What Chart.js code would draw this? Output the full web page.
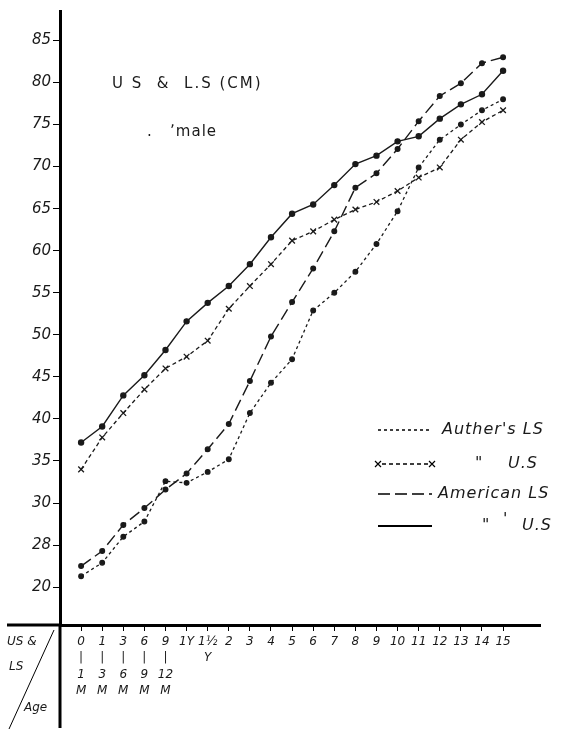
<!DOCTYPE html>
<html>
<head>
<meta charset="utf-8">
<script src="https://cdn.jsdelivr.net/npm/chart.js@4.4.0/dist/chart.umd.min.js"></script>
<style>
  html, body { margin: 0; padding: 0; background: #fff; }
  canvas { display: block; }
</style>
</head>
<body>
<canvas id="myChart" width="562" height="731"></canvas>
<script>
// age categories along the bottom
const ages = ['0', '1', '3', '6', '9', '1Y', '1½', '2', '3', '4', '5', '6', '7', '8', '9', '10', '11', '12', '13', '14', '15'];
const ageSub = [['|', '1', 'M'], ['|', '3', 'M'], ['|', '6', 'M'], ['|', '9', 'M'], ['|', '12', 'M'], [], ['Y']];

// y ticks as written on the sheet
const yTicks = [20, 25, 30, 35, 40, 45, 50, 55, 60, 65, 70, 75, 80, 85];
const yTickLabels = ['20', '28', '30', '35', '40', '45', '50', '55', '60', '65', '70', '75', '80', '85'];

// values (cm)
const authorLS   = [21.3, 22.9, 26.0, 27.8, 32.6, 32.4, 33.7, 35.2, 40.7, 44.3, 47.1, 52.9, 55.0, 57.5, 60.8, 64.7, 69.9, 73.2, 75.0, 76.7, 78.0];
const authorUS   = [34.0, 37.8, 40.7, 43.5, 46.0, 47.4, 49.3, 53.1, 55.8, 58.4, 61.2, 62.3, 63.7, 64.9, 65.8, 67.1, 68.7, 69.9, 73.2, 75.3, 76.7];
const americanLS = [22.5, 24.3, 27.4, 29.4, 31.6, 33.5, 36.4, 39.4, 44.5, 49.8, 53.9, 57.9, 62.3, 67.5, 69.2, 72.1, 75.4, 78.4, 79.9, 82.3, 83.0];
const americanUS = [37.2, 39.1, 42.8, 45.2, 48.2, 51.6, 53.8, 55.8, 58.4, 61.6, 64.4, 65.5, 67.8, 70.3, 71.3, 73.0, 73.6, 75.7, 77.4, 78.6, 81.4];

const ink = '#1a1a1a';
const hand = '"DejaVu Sans"';

function pts(arr) {
    return arr.map(function (v, i) { return { x: i, y: v }; });
}

// axis extensions, diagonal corner, title and the hand legend
const decor = {
    id: 'decor',
    afterDraw(chart) {
        const ctx = chart.ctx;
        const a = chart.chartArea;
        const ds = chart.data.datasets;
        ctx.save();
        ctx.strokeStyle = '#000';
        ctx.lineWidth = 3;
        ctx.beginPath();
        ctx.moveTo(a.left, a.bottom);
        ctx.lineTo(a.left, 728);
        ctx.moveTo(7, a.bottom);
        ctx.lineTo(a.left, a.bottom);
        ctx.stroke();

        ctx.lineWidth = 1;
        ctx.beginPath();
        ctx.moveTo(9, 729);
        ctx.lineTo(54, 630);
        ctx.stroke();

        ctx.fillStyle = ink;
        ctx.textBaseline = 'middle';
        ctx.font = 'italic 12px ' + hand;
        ctx.fillText('US &', 7, 642);
        ctx.fillText('LS', 9, 667);
        ctx.fillText('Age', 24, 708);

        ctx.font = '15px ' + hand;
        ctx.letterSpacing = '2px';
        ctx.fillText('U S  &  L.S (CM)', 112, 84);
        ctx.letterSpacing = '1px';
        ctx.fillText('.   \u02bcmale', 147, 132);

        // legend
        const rows = [430, 464, 494, 526];
        const x1 = 378, x2 = 432;
        for (let i = 0; i < 4; i++) {
            const d = ds[i];
            const y = rows[i];
            ctx.save();
            ctx.lineWidth = i === 3 ? 2 : 1.3;
            ctx.setLineDash(d.borderDash || []);
            ctx.beginPath();
            ctx.moveTo(i === 1 ? x1 + 4 : x1, y);
            ctx.lineTo(i === 1 ? x2 - 4 : x2, y);
            ctx.stroke();
            ctx.restore();
            if (i === 1) {
                ctx.lineWidth = 1.2;
                [x1, x2].forEach(function (cx) {
                    ctx.beginPath();
                    ctx.moveTo(cx - 3, y - 3); ctx.lineTo(cx + 3, y + 3);
                    ctx.moveTo(cx + 3, y - 3); ctx.lineTo(cx - 3, y + 3);
                    ctx.stroke();
                });
            }
        }
        ctx.font = 'italic 16px ' + hand;
        ctx.letterSpacing = '1px';
        ctx.fillText("Auther's LS", 442, rows[0]);
        ctx.fillText('"', 475, rows[1]);
        ctx.fillText('U.S', 508, rows[1]);
        ctx.fillText('American LS', 438, rows[2]);
        ctx.fillText('"', 482, rows[3]);
        ctx.fillText('\'', 503, rows[3] - 6);
        ctx.fillText('U.S', 522, rows[3]);
        ctx.letterSpacing = '0px';
        ctx.restore();
    }
};

const ctx = document.getElementById('myChart').getContext('2d');
const myChart = new Chart(ctx, {
    type: 'line',
    data: {
        datasets: [
            {
                label: "Auther's LS",
                data: pts(authorLS),
                borderColor: ink,
                borderWidth: 1.3,
                borderDash: [3, 3],
                pointStyle: 'circle',
                pointRadius: 2.3,
                pointBackgroundColor: ink,
                pointBorderColor: ink
            },
            {
                label: 'U.S',
                data: pts(authorUS),
                borderColor: ink,
                borderWidth: 1.3,
                borderDash: [4, 3],
                pointStyle: 'crossRot',
                pointRadius: 4,
                pointBorderWidth: 1.3,
                pointBorderColor: ink
            },
            {
                label: 'American LS',
                data: pts(americanLS),
                borderColor: ink,
                borderWidth: 1.4,
                borderDash: [12, 5],
                pointStyle: 'circle',
                pointRadius: 2.3,
                pointBackgroundColor: ink,
                pointBorderColor: ink
            },
            {
                label: 'U.S',
                data: pts(americanUS),
                borderColor: ink,
                borderWidth: 1.4,
                pointStyle: 'circle',
                pointRadius: 2.5,
                pointBackgroundColor: ink,
                pointBorderColor: ink
            }
        ]
    },
    options: {
        responsive: false,
        animation: false,
        layout: { padding: { top: 8, right: 22, bottom: 0, left: 0 } },
        plugins: {
            legend: { display: false },
            tooltip: { enabled: false }
        },
        scales: {
            x: {
                type: 'linear',
                min: -1,
                max: 21.75,
                afterFit: function (s) { s.height = 106; },
                afterBuildTicks: function (s) {
                    s.ticks = ages.map(function (a, i) { return { value: i }; });
                },
                border: { display: true, color: '#000', width: 3 },
                grid: { drawOnChartArea: false, drawTicks: true, tickLength: 6, color: '#000' },
                ticks: {
                    autoSkip: false,
                    maxRotation: 0,
                    padding: 3,
                    color: ink,
                    font: { family: hand, size: 12, style: 'italic', lineHeight: 1.35 },
                    callback: function (v) {
                        const sub = ageSub[v] || [];
                        return sub.length ? [ages[v]].concat(sub) : ages[v];
                    }
                }
            },
            y: {
                min: 15.5,
                max: 88.5,
                afterFit: function (s) { s.width = 60; },
                afterBuildTicks: function (s) {
                    s.ticks = yTicks.map(function (v) { return { value: v }; });
                },
                border: { display: true, color: '#000', width: 3 },
                grid: { drawOnChartArea: false, drawTicks: true, tickLength: 7, color: '#000' },
                ticks: {
                    padding: 2,
                    color: ink,
                    font: { family: hand, size: 15, style: 'italic' },
                    callback: function (v) {
                        const k = yTicks.indexOf(v);
                        return k >= 0 ? yTickLabels[k] : '';
                    }
                }
            }
        }
    },
    plugins: [decor]
});
</script>
</body>
</html>
